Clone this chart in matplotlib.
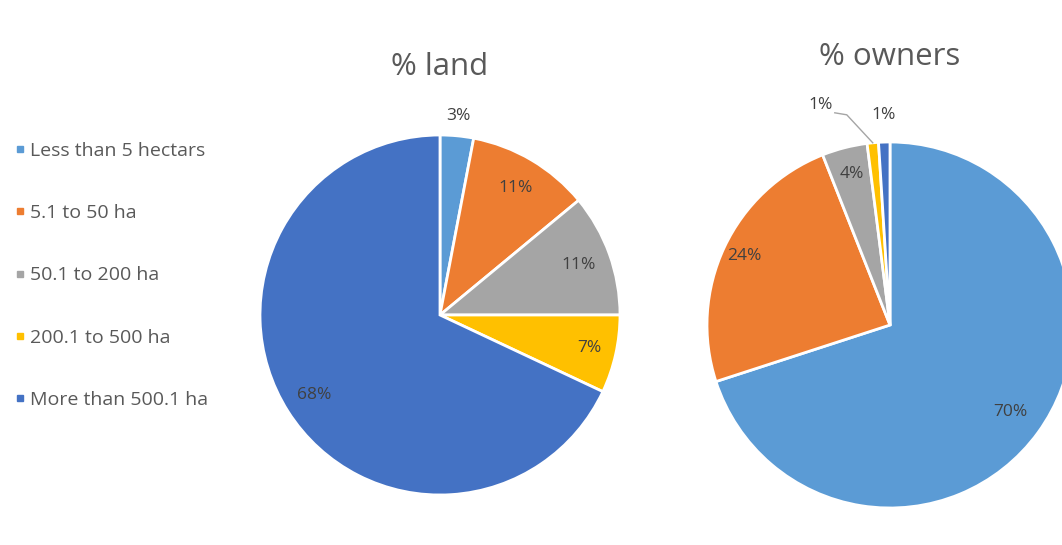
import numpy as np
import matplotlib.pyplot as plt
from matplotlib.lines import Line2D

categories = ["Less than 5 hectars", "5.1 to 50 ha", "50.1 to 200 ha",
              "200.1 to 500 ha", "More than 500.1 ha"]
land_pct = [3, 11, 11, 7, 68]
owners_pct = [70, 24, 4, 1, 1]
colors = ["#5B9BD5", "#ED7D31", "#A5A5A5", "#FFC000", "#4472C4"]

plt.rcParams['font.family'] = ['Open Sans', 'DejaVu Sans']
W, H = 1062, 545
fig = plt.figure(figsize=(W / 100, H / 100), dpi=100)
ax = fig.add_axes([0, 0, 1, 1])

txt = "#404040"
pfs = 12.5


def draw_pie(vals, cx, cy, r, dists, title, title_y):
    c = (cx, H - cy)
    wedges, _ = ax.pie(vals, colors=colors, startangle=90, counterclock=False,
                       center=c, radius=r,
                       wedgeprops=dict(edgecolor="white", linewidth=2))
    total = sum(vals)
    start = 0
    mids = []
    for v, d in zip(vals, dists):
        mid = np.deg2rad(90 - (start + v / 2) / total * 360)
        start += v
        mids.append(mid)
        if d is None:
            continue
        ax.text(c[0] + d * r * np.cos(mid), c[1] + d * r * np.sin(mid),
                "{}%".format(v), ha="center", va="center", fontsize=pfs, color=txt)
    ax.text(cx, H - title_y, title, ha="center", va="center", fontsize=22.5, color="#595959")
    return c, mids


draw_pie(land_pct, 440, 315, 180, [1.11, 0.82, 0.82, 0.85, 0.83], "% land", 67)
c, mids = draw_pie(owners_pct, 890, 325, 183, [0.81, 0.88, 0.85, None, 1.15], "% owners", 57)

# leader line for the small yellow slice
r = 183
m = mids[3]
px, py = c[0] + r * np.cos(m), c[1] + r * np.sin(m)
ax.plot([px, px - 26, px - 38], [py, py + 28, py + 30], color="#A5A5A5", lw=1)
ax.text(px - 40, py + 38, "1%", ha="right", va="center", fontsize=pfs, color=txt)

handles = [Line2D([], [], marker="s", ls="none", markersize=5, color=col) for col in colors]
ax.legend(handles, categories, loc="upper left", bbox_to_anchor=(5 / W, 1 - 134 / H),
          frameon=False, fontsize=14, labelspacing=2.28, handletextpad=0.15,
          handlelength=0.75, borderaxespad=0, borderpad=0.4, labelcolor="#595959")

ax.set_xlim(0, W)
ax.set_ylim(0, H)
ax.set_aspect("auto")
ax.axis("off")
fig.savefig("out.png", dpi=100)
